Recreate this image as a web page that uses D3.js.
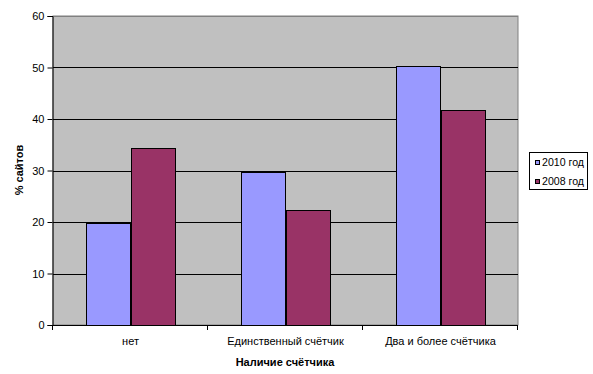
<!DOCTYPE html>
<html><head><meta charset="utf-8">
<script src="https://cdn.jsdelivr.net/npm/d3@7"></script>
<style>body{margin:0;background:#fff}svg{display:block;font-family:"Liberation Sans",Arial,sans-serif}</style>
</head><body><svg id="c" width="593" height="374"></svg>
<script>
const categories = ["нет", "Единственный счётчик", "Два и более счётчика"];
const seriesNames = ["2010 год", "2008 год"];
const values2010 = [19.8, 29.7, 50.3];
const values2008 = [34.3, 22.3, 41.7];
const yTicks = [0, 10, 20, 30, 40, 50, 60];
const colors = ["#9999FF", "#993366"];

const svg = d3.select("#c");
const L = 53, R = 518, T = 16, B = 325;
const x = d3.scaleBand().domain(categories).range([L, R]);
const y = d3.scaleLinear().domain([0, 60]).range([B, T]);
const groupInner = x.bandwidth() * (2 / 3.5);
const xs = d3.scaleBand().domain(seriesNames).range([0, groupInner]);

svg.append("rect").attr("x", L).attr("y", T).attr("width", R - L).attr("height", B - T)
  .attr("fill", "#C0C0C0").attr("stroke", "#808080").attr("stroke-width", 1);

svg.append("g").selectAll("line").data(yTicks.filter(d => d > 0)).join("line")
  .attr("x1", L).attr("x2", R).attr("y1", d => Math.round(y(d)) + 0.5).attr("y2", d => Math.round(y(d)) + 0.5)
  .attr("stroke", d => d === 60 ? "#808080" : "#000").attr("stroke-width", 1);

const data = categories.map((c, i) => [values2010[i], values2008[i]]);
const g = svg.append("g");
categories.forEach((c, i) => {
  const x0 = x(c) + (x.bandwidth() - groupInner) / 2;
  data[i].forEach((v, j) => {
    g.append("rect")
      .attr("x", Math.round(x0 + xs(seriesNames[j])) + 0.5)
      .attr("y", Math.round(y(v)) + 0.5)
      .attr("width", Math.round(xs.bandwidth()))
      .attr("height", Math.round(y(0)) - Math.round(y(v)))
      .attr("fill", colors[j]).attr("stroke", "#000").attr("stroke-width", 1);
  });
});

const yAxis = d3.axisLeft(y).tickValues(yTicks).tickSize(5).tickPadding(3);
const ga = svg.append("g").attr("transform", `translate(${L - 0.5},0)`).call(yAxis);
ga.select(".domain").attr("stroke", "#000");
ga.selectAll("text").attr("font-size", 11).attr("fill", "#000");

// x axis
svg.append("line").attr("x1", L - 0.5).attr("x2", R).attr("y1", B + 0.5).attr("y2", B + 0.5).attr("stroke", "#000");
const bounds = [L, x(categories[1]), x(categories[2]), R];
svg.append("g").selectAll("line").data(bounds).join("line")
  .attr("x1", d => Math.round(d) - 0.5).attr("x2", d => Math.round(d) - 0.5)
  .attr("y1", B).attr("y2", B + 5).attr("stroke", "#000");
svg.append("g").selectAll("text").data(categories).join("text")
  .attr("x", d => x(d) + x.bandwidth() / 2).attr("y", 345)
  .attr("text-anchor", "middle").attr("font-size", 11).text(d => d);

svg.append("text").attr("x", 285).attr("y", 366).attr("text-anchor", "middle")
  .attr("font-size", 11).attr("font-weight", "bold").text("Наличие счётчика");
svg.append("text").attr("transform", "translate(23,170) rotate(-90)").attr("text-anchor", "middle")
  .attr("font-size", 11).attr("font-weight", "bold").text("% сайтов");

// legend
const lg = svg.append("g");
lg.append("rect").attr("x", 529.5).attr("y", 152.5).attr("width", 58).attr("height", 37)
  .attr("fill", "#fff").attr("stroke", "#000");
seriesNames.forEach((s, j) => {
  const yy = 166 + j * 19;
  lg.append("rect").attr("x", 535.5).attr("y", yy - 5.5).attr("width", 4).attr("height", 4)
    .attr("fill", colors[j]).attr("stroke", "#000");
  lg.append("text").attr("x", 542).attr("y", yy).attr("font-size", 10.5)
    .attr("textLength", 42).attr("lengthAdjust", "spacingAndGlyphs").text(s);
});
</script></body></html>
